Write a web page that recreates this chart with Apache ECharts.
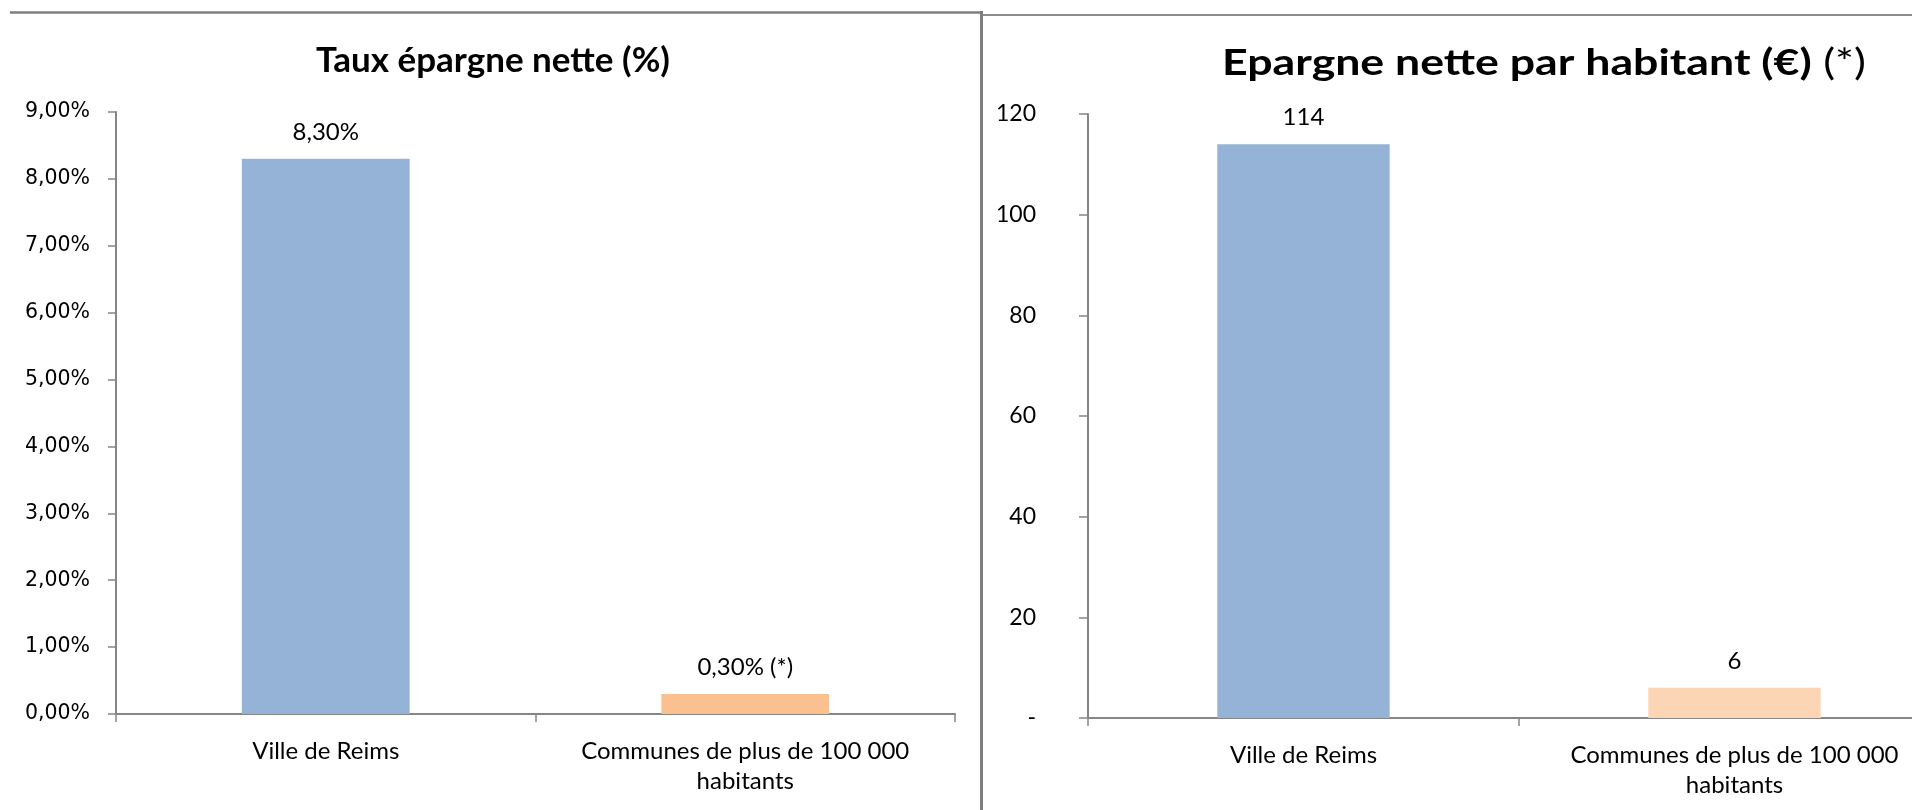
<!DOCTYPE html>
<html>
<head>
<meta charset="utf-8">
<script src="https://cdn.jsdelivr.net/npm/echarts@6/dist/echarts.min.js"></script>
<style>
  html, body { margin: 0; padding: 0; background: #fff; overflow: hidden; }
  #main { width: 1950px; height: 810px; }
</style>
</head>
<body>
<div id="main"></div>
<script>
// données
var categories = ['Ville de Reims', 'Communes de plus de 100 000\nhabitants'];
var tauxEpargne = [8.3, 0.3];           // en %
var tauxLabels = ['8,30%', '0,30% (*)'];
var epargneHabitant = [114, 6];         // en €
var habitantLabels = ['114', '6'];

var blue = '#95B3D7';
var axisGray = '#868686';
var calibri = 'Lato, "Open Sans", sans-serif';

// le graphique de droite déborde un peu à droite (axe coupé comme dans l'original)
var chart = echarts.init(document.getElementById('main'));

var option = {
  animation: false,
  textStyle: { fontFamily: calibri, color: '#000' },
  title: {
    text: 'Taux épargne nette (%)',
    left: 488, top: 38, textAlign: 'center',
    textStyle: { fontFamily: calibri, fontSize: 35, fontWeight: 'bold', color: '#000' }
  },
  grid: [
    { left: 116, top: 112, width: 839, height: 602 },
    { left: 1088, top: 114, width: 862, height: 604 }
  ],
  xAxis: [0, 1].map(function (i) {
    return {
      type: 'category',
      gridIndex: i,
      data: categories,
      axisLine: { lineStyle: { color: axisGray, width: 2 } },
      axisTick: { show: true, length: 8, lineStyle: { color: axisGray, width: 1.5 } },
      axisLabel: {
        interval: 0, hideOverlap: false,
        fontFamily: calibri, fontSize: 24, color: '#000', margin: 22, lineHeight: 30
      }
    };
  }),
  yAxis: [
    {
      type: 'value', gridIndex: 0, min: 0, max: 9, interval: 1,
      axisLine: { show: true, lineStyle: { color: axisGray, width: 2 } },
      axisTick: { show: true, length: 8, lineStyle: { color: axisGray, width: 1.5 } },
      splitLine: { show: false },
      axisLabel: {
        fontFamily: '"DejaVu Sans", sans-serif', fontSize: 20.5, color: '#000', margin: 26,
        formatter: function (v) { return v.toFixed(2).replace('.', ',') + '%'; }
      }
    },
    {
      type: 'value', gridIndex: 1, min: 0, max: 120, interval: 20,
      axisLine: { show: true, lineStyle: { color: axisGray, width: 2 } },
      axisTick: { show: true, length: 9, lineStyle: { color: axisGray, width: 1.5 } },
      splitLine: { show: false },
      axisLabel: {
        fontFamily: calibri, fontSize: 23, color: '#000', margin: 52,
        formatter: function (v) { return v === 0 ? '-' : String(v); }
      }
    }
  ],
  series: [
    {
      type: 'bar', xAxisIndex: 0, yAxisIndex: 0, barWidth: '40%',
      data: tauxEpargne.map(function (v, i) {
        return { value: v, itemStyle: { color: i === 0 ? blue : '#FAC090' } };
      }),
      label: {
        show: true, position: 'top', distance: 15,
        fontFamily: calibri, fontSize: 24, color: '#000',
        formatter: function (p) { return tauxLabels[p.dataIndex]; }
      }
    },
    {
      type: 'bar', xAxisIndex: 1, yAxisIndex: 1, barWidth: '40%',
      data: epargneHabitant.map(function (v, i) {
        return { value: v, itemStyle: { color: i === 0 ? blue : '#FCD5B5' } };
      }),
      label: {
        show: true, position: 'top', distance: 15,
        fontFamily: calibri, fontSize: 24, color: '#000',
        formatter: function (p) { return habitantLabels[p.dataIndex]; }
      }
    }
  ],
  graphic: [
    // titre de droite, un peu étiré en largeur comme dans l'original
    {
      type: 'text', x: 1544, y: 63, scaleX: 1.24, z: 10,
      style: {
        text: '{b|Epargne nette par habitant (€)}{n| (*)}',
        align: 'center', verticalAlign: 'middle',
        rich: {
          b: { fontFamily: calibri, fontSize: 36, fontWeight: 'bold', fill: '#000' },
          n: { fontFamily: calibri, fontSize: 36, fill: '#000' }
        }
      }
    },
    // cadres des deux graphiques
    { type: 'line', shape: { x1: 10, y1: 12.5, x2: 982, y2: 12.5 }, style: { stroke: '#7F7F7F', lineWidth: 2.5 } },
    { type: 'line', shape: { x1: 982, y1: 15, x2: 1950, y2: 15 }, style: { stroke: '#8C8C8C', lineWidth: 2 } },
    { type: 'line', shape: { x1: 981.5, y1: 11, x2: 981.5, y2: 810 }, style: { stroke: '#7F7F7F', lineWidth: 3 } }
  ]
};

chart.setOption(option);
</script>
</body>
</html>
